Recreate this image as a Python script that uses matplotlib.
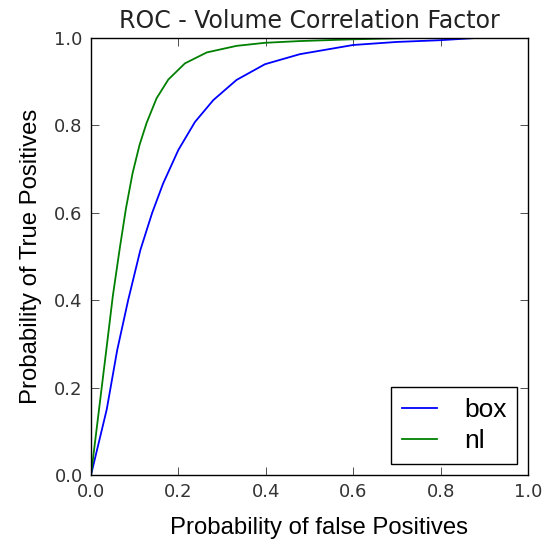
import matplotlib
matplotlib.use('Agg')
import matplotlib.pyplot as plt

# ROC points
fpr_box = [0.0, 0.036, 0.060, 0.085, 0.113, 0.140, 0.165, 0.200, 0.238, 0.280,
           0.333, 0.398, 0.478, 0.600, 0.700, 0.800, 0.880, 1.0]
tpr_box = [0.0, 0.150, 0.286, 0.400, 0.515, 0.600, 0.667, 0.744, 0.808, 0.858,
           0.904, 0.940, 0.963, 0.984, 0.991, 0.995, 1.0, 1.0]

fpr_nl = [0.0, 0.035, 0.050, 0.066, 0.080, 0.095, 0.111, 0.127, 0.150, 0.177, 0.215,
          0.265, 0.333, 0.398, 0.478, 0.600, 0.730, 1.0]
tpr_nl = [0.0, 0.286, 0.410, 0.520, 0.610, 0.690, 0.755, 0.805, 0.862, 0.905, 0.942,
          0.967, 0.982, 0.989, 0.993, 0.997, 1.0, 1.0]

ticks = [0.0, 0.2, 0.4, 0.6, 0.8, 1.0]

fig = plt.figure(figsize=(5.49, 5.39), dpi=100)
ax = fig.add_axes([91 / 549, 1 - 475 / 539, 437 / 549, 437 / 539])

ax.plot(fpr_box, tpr_box, color='#0000ff', lw=1.3, label='box')
ax.plot(fpr_nl, tpr_nl, color='#008000', lw=1.3, label='nl')

ax.set_xlim(0, 1)
ax.set_ylim(0, 1)
ax.set_xticks(ticks)
ax.set_yticks(ticks)
ax.set_xticklabels(['%.1f' % t for t in ticks])
ax.set_yticklabels(['%.1f' % t for t in ticks])
ax.tick_params(direction='in', length=5.5, width=0.6, top=True, right=True,
               labelsize=13, pad=6, colors='#333333')
for s in ax.spines.values():
    s.set_linewidth(1.0)

ax.set_title('ROC - Volume Correlation Factor', fontsize=17, family='DejaVu Sans',
             color='#222222', pad=7)
ax.set_xlabel('Probability of false Positives', fontsize=17.2, family='Liberation Sans',
              labelpad=11)
ax.xaxis.label.set_x(0.5225)
ax.set_ylabel('Probability of True Positives', fontsize=17.2, family='Liberation Sans',
              labelpad=9)

leg = ax.legend(loc='lower right', prop={'family': 'Liberation Sans', 'size': 19},
                fancybox=False, framealpha=1, edgecolor='black', handlelength=1.36,
                borderaxespad=0.42, handletextpad=1.0, borderpad=0.4,
                labelspacing=0.28)
leg.get_frame().set_linewidth(1.0)

fig.savefig('out.png', dpi=100, facecolor='white')
